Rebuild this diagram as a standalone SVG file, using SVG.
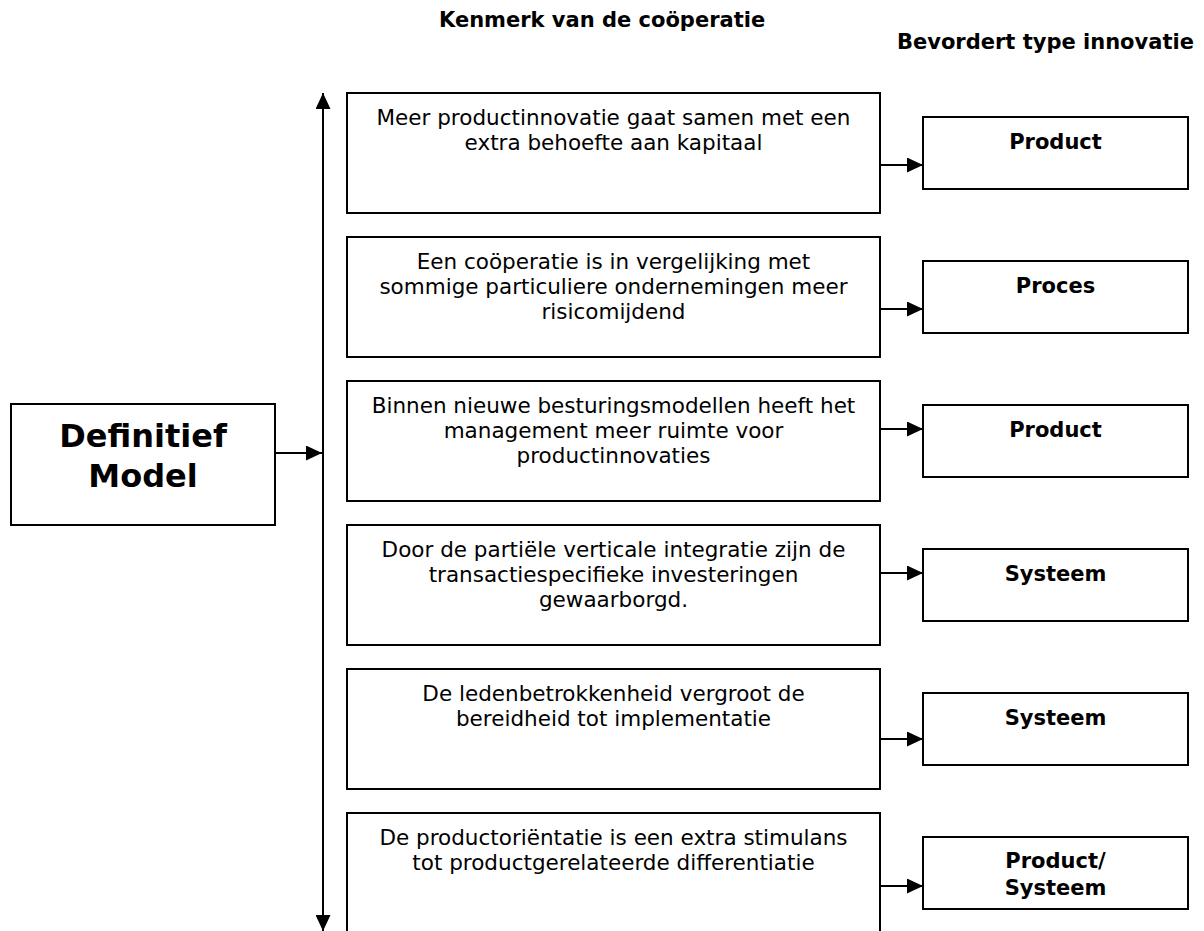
<svg xmlns="http://www.w3.org/2000/svg" width="1204" height="931" viewBox="0 0 1204 931">
  <style>
    .box { fill: #ffffff; stroke: #000000; stroke-width: 2; }
    .line { fill: none; stroke: #000000; stroke-width: 2; }
    .hdr { font-family: "DejaVu Sans", Verdana, sans-serif; font-weight: bold; font-size: 21px; fill: #000; }
    .body { font-family: "DejaVu Sans", Verdana, sans-serif; font-size: 21.5px; fill: #000; text-anchor: middle; }
    .type { font-family: "DejaVu Sans", Verdana, sans-serif; font-weight: bold; font-size: 21px; fill: #000; text-anchor: middle; }
    .main { font-family: "DejaVu Sans", Verdana, sans-serif; font-weight: bold; font-size: 32px; fill: #000; text-anchor: middle; }
  </style>
  <defs>
    <marker id="arrow" viewBox="0 0 16 15" refX="16" refY="7.5" markerWidth="16" markerHeight="15" markerUnits="userSpaceOnUse" orient="auto">
      <path d="M0,0 L16,7.5 L0,15 Z" fill="#000"/>
    </marker>
  </defs>
  <rect width="1204" height="931" fill="#ffffff"/>

  <!-- column headings -->
  <text class="hdr" x="439" y="27">Kenmerk van de coöperatie</text>
  <text class="hdr" x="897" y="49">Bevordert type innovatie</text>

  <!-- source node -->
  <g id="definitief-model">
    <rect class="box" x="11" y="404" width="264" height="121"/>
    <text class="main" x="143" y="447">Definitief</text>
    <text class="main" x="143" y="487">Model</text>
  </g>

  <!-- characteristics -->
  <g id="kenmerk-1">
    <rect class="box" x="347" y="93" width="533" height="120"/>
    <text class="body" x="613.5" y="125">Meer productinnovatie gaat samen met een</text>
    <text class="body" x="613.5" y="150">extra behoefte aan kapitaal</text>
  </g>
  <g id="kenmerk-2">
    <rect class="box" x="347" y="237" width="533" height="120"/>
    <text class="body" x="613.5" y="269">Een coöperatie is in vergelijking met</text>
    <text class="body" x="613.5" y="294">sommige particuliere ondernemingen meer</text>
    <text class="body" x="613.5" y="319">risicomijdend</text>
  </g>
  <g id="kenmerk-3">
    <rect class="box" x="347" y="381" width="533" height="120"/>
    <text class="body" x="613.5" y="413">Binnen nieuwe besturingsmodellen heeft het</text>
    <text class="body" x="613.5" y="438">management meer ruimte voor</text>
    <text class="body" x="613.5" y="463">productinnovaties</text>
  </g>
  <g id="kenmerk-4">
    <rect class="box" x="347" y="525" width="533" height="120"/>
    <text class="body" x="613.5" y="557">Door de partiële verticale integratie zijn de</text>
    <text class="body" x="613.5" y="582">transactiespecifieke investeringen</text>
    <text class="body" x="613.5" y="607">gewaarborgd.</text>
  </g>
  <g id="kenmerk-5">
    <rect class="box" x="347" y="669" width="533" height="120"/>
    <text class="body" x="613.5" y="701">De ledenbetrokkenheid vergroot de</text>
    <text class="body" x="613.5" y="726">bereidheid tot implementatie</text>
  </g>
  <g id="kenmerk-6">
    <rect class="box" x="347" y="813" width="533" height="130"/>
    <text class="body" x="613.5" y="845">De productoriëntatie is een extra stimulans</text>
    <text class="body" x="613.5" y="870">tot productgerelateerde differentiatie</text>
  </g>

  <!-- innovation types -->
  <g id="type-1">
    <rect class="box" x="923" y="117" width="265" height="72"/>
    <text class="type" x="1055.5" y="149">Product</text>
  </g>
  <g id="type-2">
    <rect class="box" x="923" y="261" width="265" height="72"/>
    <text class="type" x="1055.5" y="293">Proces</text>
  </g>
  <g id="type-3">
    <rect class="box" x="923" y="405" width="265" height="72"/>
    <text class="type" x="1055.5" y="437">Product</text>
  </g>
  <g id="type-4">
    <rect class="box" x="923" y="549" width="265" height="72"/>
    <text class="type" x="1055.5" y="581">Systeem</text>
  </g>
  <g id="type-5">
    <rect class="box" x="923" y="693" width="265" height="72"/>
    <text class="type" x="1055.5" y="725">Systeem</text>
  </g>
  <g id="type-6">
    <rect class="box" x="923" y="837" width="265" height="72"/>
    <text class="type" x="1055.5" y="868">Product/</text>
    <text class="type" x="1055.5" y="895">Systeem</text>
  </g>

  <!-- connectors -->
  <g id="connectors">
    <line class="line" x1="323" y1="460" x2="323" y2="93" marker-end="url(#arrow)"/>
    <line class="line" x1="323" y1="460" x2="323" y2="931" marker-end="url(#arrow)"/>
    <line class="line" x1="275" y1="453" x2="322" y2="453" marker-end="url(#arrow)"/>
    <line class="line" x1="880" y1="165" x2="923" y2="165" marker-end="url(#arrow)"/>
    <line class="line" x1="880" y1="309" x2="923" y2="309" marker-end="url(#arrow)"/>
    <line class="line" x1="880" y1="429" x2="923" y2="429" marker-end="url(#arrow)"/>
    <line class="line" x1="880" y1="573" x2="923" y2="573" marker-end="url(#arrow)"/>
    <line class="line" x1="880" y1="739" x2="923" y2="739" marker-end="url(#arrow)"/>
    <line class="line" x1="880" y1="886" x2="923" y2="886" marker-end="url(#arrow)"/>
  </g>
</svg>
